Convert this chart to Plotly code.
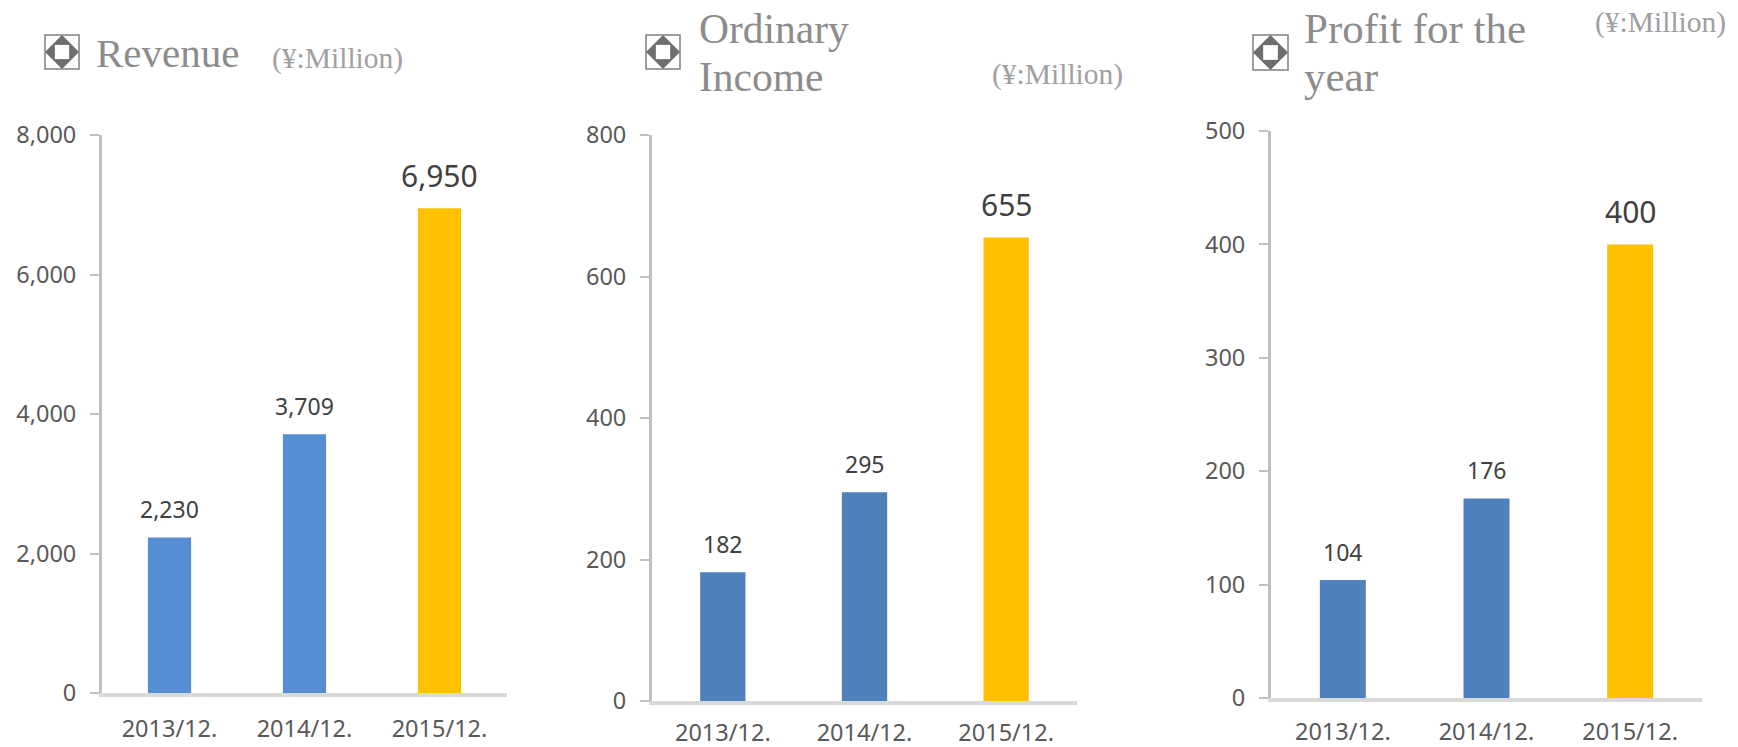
import plotly.graph_objects as go

W, H = 1738, 747

categories = ["2013/12.", "2014/12.", "2015/12."]
revenue = [2230, 3709, 6950]
ordinary_income = [182, 295, 655]
profit = [104, 176, 400]
revenue_ticks = [0, 2000, 4000, 6000, 8000]
income_ticks = [0, 200, 400, 600, 800]
profit_ticks = [0, 100, 200, 300, 400, 500]

TICK_FONT = dict(family="Noto Sans", size=23.5, color="#595959")
SERIF = "Liberation Serif"


def px(x):
    return x / W


def py(y):
    return 1 - y / H


panels = [
    dict(values=revenue, ticks=revenue_ticks, xdom=(102, 507), ydom=(135, 693), blue="#558ED5", fmt=",", standoff=9, xstandoff=12),
    dict(values=ordinary_income, ticks=income_ticks, xdom=(652, 1077), ydom=(135, 701), blue="#4F81BD", fmt="d", standoff=9, xstandoff=8),
    dict(values=profit, ticks=profit_ticks, xdom=(1271, 1702), ydom=(131, 698), blue="#4F81BD", fmt="d", standoff=9, xstandoff=10),
]

fig = go.Figure()
annotations = []
layout = {}

for i, p in enumerate(panels):
    sfx = "" if i == 0 else str(i + 1)
    fig.add_trace(go.Bar(
        x=categories, y=p["values"], xaxis="x" + sfx, yaxis="y" + sfx,
        marker=dict(color=[p["blue"], p["blue"], "#FFC000"], line=dict(width=0)),
        showlegend=False, hoverinfo="x+y",
    ))
    layout["xaxis" + sfx] = dict(
        domain=[px(p["xdom"][0]), px(p["xdom"][1])], anchor="y" + sfx,
        type="category", range=[-0.5, 2.5], showgrid=False,
        showline=True, linecolor="#D9D9D9", linewidth=4, ticks="",
        tickfont=TICK_FONT, ticklabelstandoff=p["xstandoff"], zeroline=False,
    )
    layout["yaxis" + sfx] = dict(
        domain=[py(p["ydom"][1]), py(p["ydom"][0])], anchor="x" + sfx,
        range=[p["ticks"][0], p["ticks"][-1]], tickvals=p["ticks"], tickformat=p["fmt"],
        showgrid=False, zeroline=False, showline=True, linecolor="#BFBFBF", linewidth=3,
        ticks="outside", ticklen=9, tickwidth=1.5, tickcolor="#BFBFBF",
        tickfont=TICK_FONT, ticklabelstandoff=p["standoff"],
    )
    for j, (c, v) in enumerate(zip(categories, p["values"])):
        big = j == 2
        annotations.append(dict(
            x=c, y=v, xref="x" + sfx, yref="y" + sfx, text=format(v, ","), showarrow=False,
            xanchor="center", yanchor="middle", yshift=33 if big else 28,
            font=dict(family="Noto Sans", size=30 if big else 23, color="#404040"),
        ))

titles = [
    ("Revenue", 94, 53, 41),
    ("Ordinary", 697, 29, 41.5),
    ("Income", 697, 77, 41.5),
    ("Profit for the", 1302, 28, 43),
    ("year", 1302, 77, 43),
]
for t, x, y, s in titles:
    annotations.append(dict(x=px(x), y=py(y), xref="paper", yref="paper", text=t, showarrow=False,
                            xanchor="left", yanchor="middle",
                            font=dict(family=SERIF, size=s, color="#8C8C8C")))

units = [(270, 59), (990, 74), (1593, 22)]
for x, y in units:
    annotations.append(dict(x=px(x), y=py(y), xref="paper", yref="paper", text="(¥:Million)", showarrow=False,
                            xanchor="left", yanchor="middle",
                            font=dict(family=SERIF, size=29.5, color="#A0A0A0")))

shapes = []
for x0, y0, size in [(45, 35, 34), (646, 35, 34), (1253, 35, 35)]:
    x1, y1 = x0 + size, y0 + size
    cx, cy = (x0 + x1) / 2, (y0 + y1) / 2
    r = size / 2
    q = size * 0.21
    shapes.append(dict(type="rect", xref="paper", yref="paper", x0=px(x0), x1=px(x1), y0=py(y1), y1=py(y0),
                       line=dict(color="#808080", width=1.5), fillcolor="white"))
    shapes.append(dict(type="path", xref="paper", yref="paper",
                       path=f"M {px(cx)} {py(cy - r)} L {px(cx + r)} {py(cy)} L {px(cx)} {py(cy + r)} L {px(cx - r)} {py(cy)} Z",
                       fillcolor="#6E6E6E", line=dict(width=0)))
    shapes.append(dict(type="rect", xref="paper", yref="paper", x0=px(cx - q), x1=px(cx + q), y0=py(cy + q), y1=py(cy - q),
                       fillcolor="white", line=dict(width=0)))

fig.update_layout(
    width=W, height=H, margin=dict(l=0, r=0, t=0, b=0, autoexpand=False), autosize=False,
    paper_bgcolor="white", plot_bgcolor="white", bargap=0.68,
    annotations=annotations, shapes=shapes, **layout,
)

fig.write_html("out.html", config=dict(displayModeBar=False),
               post_script="document.body.style.margin='0';document.body.style.overflow='hidden';")
